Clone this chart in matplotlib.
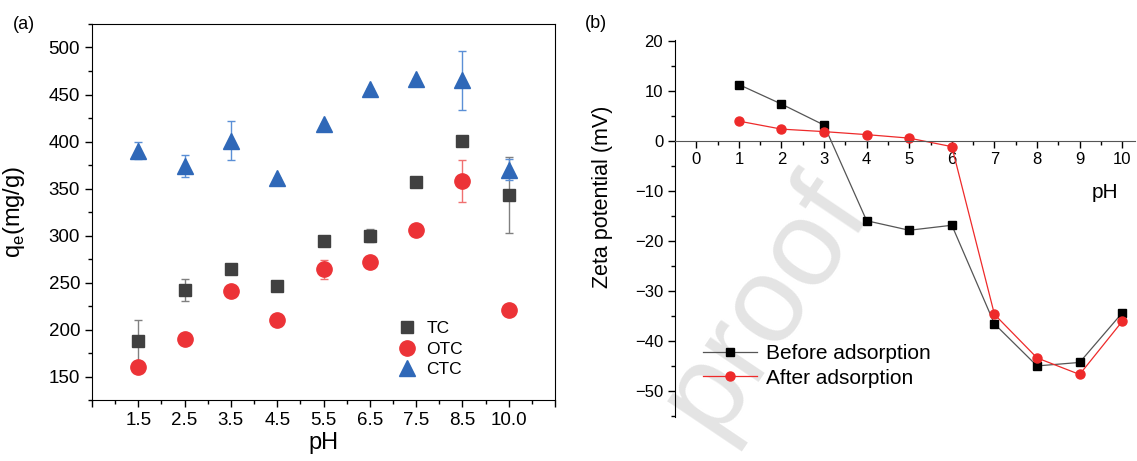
import numpy as np
import matplotlib.pyplot as plt
from matplotlib.lines import Line2D

plt.rcParams['font.family'] = ['Liberation Sans', 'DejaVu Sans']

# (a) adsorption capacity vs pH
ph_labels = ['1.5', '2.5', '3.5', '4.5', '5.5', '6.5', '7.5', '8.5', '10.0']
tc = [188, 242, 264, 246, 294, 300, 357, 401, 343]
tc_err = [22, 12, 0, 0, 3, 7, 0, 0, 40]
otc = [160, 190, 241, 210, 264, 272, 306, 358, 221]
otc_err = [0, 0, 0, 0, 10, 0, 0, 22, 0]
ctc = [390, 374, 401, 361, 419, 456, 466, 465, 370]
ctc_err = [9, 12, 21, 0, 0, 0, 0, 31, 11]

# (b) zeta potential vs pH
ph_b = [1, 2, 3, 4, 5, 6, 7, 8, 9, 10]
zeta_before = [11.2, 7.3, 3.1, -16.0, -17.9, -16.9, -36.6, -45.0, -44.3, -34.4]
zeta_after = [3.9, 2.3, 1.8, 1.2, 0.5, -1.2, -34.7, -43.4, -46.7, -36.1]

W, H = 1137, 461
fig = plt.figure(figsize=(W / 100, H / 100), dpi=100)

# watermark behind everything
fig.text(765 / W, 1 - 305 / H, 'proof', rotation=56, ha='center', va='center',
         fontsize=88, color='#e4e4e4', zorder=-1)

# ---------- panel (a)
ax = fig.add_axes([92 / W, 1 - 400 / H, 463 / W, 376 / H])
ax.set_facecolor('none')
x = np.arange(1, len(ph_labels) + 1)

series = [
    (tc, tc_err, 's', '#404040', '#808080', 9, 'TC'),
    (otc, otc_err, 'o', '#ec3337', '#f07070', 11, 'OTC'),
    (ctc, ctc_err, '^', '#2f68b8', '#5b8fd6', 12, 'CTC'),
]
handles = []
for vals, err, mk, col, ecol, size, name in series:
    ax.errorbar(x, vals, yerr=err, fmt=mk, color=col, ecolor=ecol,
                ms=size, capsize=3, elinewidth=1)
    handles.append(Line2D([], [], ls='none', marker=mk, color=col, ms=size, label=name))

ax.set_xlim(0, 10)
ax.set_ylim(125, 525)
ax.set_xticks(range(0, 11))
ax.set_xticklabels([''] + ph_labels + [''])
ax.set_xticks(np.arange(0.5, 10, 1), minor=True)
ax.set_yticks(range(150, 501, 50))
ax.set_yticks(range(125, 526, 25), minor=True)
ax.tick_params(which='major', direction='out', length=5, width=1, labelsize=13.5)
ax.tick_params(which='minor', direction='out', length=3, width=1)
ax.set_xlabel('pH', fontsize=17, labelpad=2)
ax.set_ylabel(r'q$_\mathregular{e}$(mg/g)', fontsize=17)
ax.yaxis.set_label_coords(-0.14, 0.5)

ax.legend(handles=handles, frameon=False, loc='center', bbox_to_anchor=(0.73, 0.135),
          fontsize=12.5, handletextpad=0.5, labelspacing=0.3, handlelength=1.2)

ax.text(-0.17, 1.0, '(a)', transform=ax.transAxes, fontsize=13, va='center')

# ---------- panel (b)
bx = fig.add_axes([675 / W, 1 - 417 / H, 460 / W, 377 / H])
bx.set_facecolor('none')
bx.plot(ph_b, zeta_before, color='#555555', lw=0.9, marker='s', mfc='black',
        mec='black', ms=5.5, label='Before adsorption')
bx.plot(ph_b, zeta_after, color='#ee2a2a', lw=0.9, marker='o', mfc='#ee2a2a',
        mec='#ee2a2a', ms=6.5, label='After adsorption')

bx.set_xlim(-0.5, 10.3)
bx.set_ylim(-55.2, 20.1)
bx.spines['top'].set_visible(False)
bx.spines['right'].set_visible(False)
bx.spines['bottom'].set_position(('data', 0))
bx.spines['bottom'].set_color('#555555')
bx.set_xticks(range(0, 11))
bx.set_xticks(np.arange(0.5, 10.3, 1), minor=True)
bx.set_yticks(range(-50, 21, 10))
bx.set_yticks(range(-55, 21, 5), minor=True)
bx.tick_params(which='major', direction='out', length=5, width=1, labelsize=12)
bx.tick_params(which='minor', direction='out', length=3, width=1)
bx.set_ylabel('Zeta potential (mV)', fontsize=15.5)
bx.yaxis.set_label_coords(-0.135, 0.585)
bx.text((1105 - 675) / 460, 1 - (192 - 40) / 377, 'pH', transform=bx.transAxes,
        fontsize=15, ha='center', va='center')

bx.legend(frameon=False, loc='center left',
          bbox_to_anchor=((703 - 675) / 460, 1 - (366 - 40) / 377),
          fontsize=15, borderpad=0, borderaxespad=0, handlelength=2.6,
          handletextpad=0.4, labelspacing=0.25)

bx.text(-0.195, 1.045, '(b)', transform=bx.transAxes, fontsize=13, va='center')

fig.savefig('out.png', dpi=100)
